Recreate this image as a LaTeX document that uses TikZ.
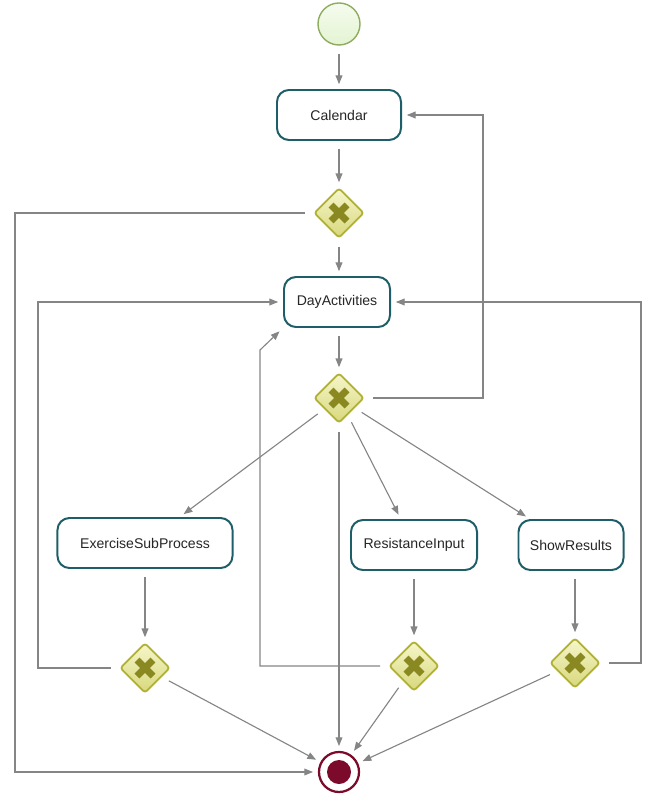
\documentclass[tikz,border=0pt]{standalone}
\usepackage{fontspec}
\setmainfont{Liberation Sans}
\usetikzlibrary{shapes.geometric,arrows.meta}
\definecolor{taskline}{HTML}{1E5E68}
\definecolor{flowgray}{HTML}{858585}
\definecolor{gateline}{HTML}{B0B034}
\definecolor{gatetop}{HTML}{F6F6CC}
\definecolor{gatebot}{HTML}{D8D87C}
\definecolor{gatex}{HTML}{8A8820}
\definecolor{starttop}{HTML}{F5FBEE}
\definecolor{startmid}{HTML}{BCE396}
\definecolor{startbot}{HTML}{E4F4D2}
\definecolor{startline}{HTML}{8EAC5E}
\definecolor{endred}{HTML}{7C0A2A}

\begin{document}
\begin{tikzpicture}[x=0.025cm,y=-0.025cm,
	task/.style={draw=taskline,line width=1.4pt,rounded corners=0.3cm,fill=white,
		minimum height=1.25cm,text=black!85,font=\fontsize{10}{12}\selectfont},
	gate/.style={diamond,draw=gateline,line width=1.3pt,rounded corners=2pt,
		top color=gatetop,bottom color=gatebot,minimum size=1.25cm,inner sep=0pt,
		path picture={\draw[gatex,line width=0.17cm]
			([shift={(-0.2cm,-0.2cm)}]path picture bounding box.center) -- ([shift={(0.2cm,0.2cm)}]path picture bounding box.center)
			([shift={(-0.2cm,0.2cm)}]path picture bounding box.center) -- ([shift={(0.2cm,-0.2cm)}]path picture bounding box.center);}},
	flow/.style={draw=flowgray,line width=0.8pt,-{Triangle[length=0.22cm,width=0.17cm]},
		shorten <=0.2cm,shorten >=0.12cm},
]
	\useasboundingbox (0,0) rectangle (649,800);

	\node[circle,draw=startline,line width=1pt,top color=starttop,middle color=startmid,
		bottom color=startbot,minimum size=1.05cm] (start) at (339,24) {};
	\node[task,minimum width=3.1cm] (cal) at (339,115) {Calendar};
	\node[gate] (gw1) at (339,213) {};
	\node[task,minimum width=2.65cm] (day) at (337,302) {DayActivities};
	\node[gate] (gw2) at (339,398) {};

	\node[task,minimum width=4.375cm] (ex) at (145,543) {ExerciseSubProcess};
	\node[task,minimum width=3.15cm] (ri) at (414,545) {ResistanceInput};
	\node[task,minimum width=2.625cm] (sr) at (571,545) {ShowResults};

	\node[gate] (gwex) at (145,668) {};
	\node[gate] (gwri) at (414,666) {};
	\node[gate] (gwsr) at (575,663) {};

	\node[circle,draw=endred,line width=1.6pt,fill=white,minimum size=1cm,
		path picture={\fill[endred] (path picture bounding box.center) circle (0.3cm);}] (end) at (339,772) {};

	\draw[flow] (start) -- (cal);
	\draw[flow] (cal) -- (gw1);
	\draw[flow] (gw1) -- (gw1 |- day.north);
	\draw[flow] (gw1.west) -- (15,213) |- (end.west);
	\draw[flow] (day.south -| gw2) -- (gw2);
	\draw[flow] (gw2.east) -- (483,398) |- (cal.east);

	\draw[flow] (gw2) -- (ex);
	\draw[flow] (gw2) -- (ri);
	\draw[flow] (gw2) -- (sr);
	\draw[flow] (gw2) -- (end);

	\draw[flow] (ex) -- (gwex);
	\draw[flow] (ri) -- (gwri);
	\draw[flow] (sr.south -| gwsr) -- (gwsr);

	\draw[flow] (gwex.west) -- (38,668) |- (day.west);
	\draw[flow] (gwri.west) -- (260,666) -- (260,350) -- (day.south west);
	\draw[flow] (gwsr.east) -- (641,663) |- (day.east);

	\draw[flow] (gwex) -- (end);
	\draw[flow] (gwri) -- (end);
	\draw[flow] (gwsr) -- (end);
\end{tikzpicture}
\end{document}
